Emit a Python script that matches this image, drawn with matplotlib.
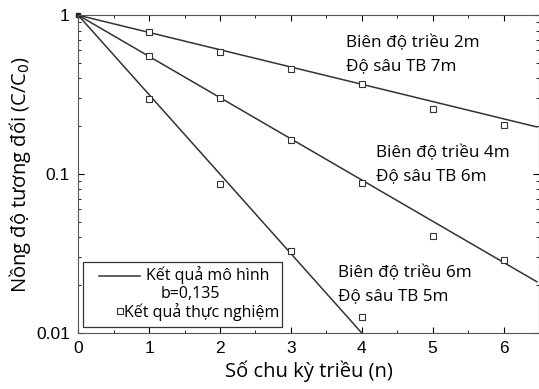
import matplotlib.pyplot as plt
from matplotlib.patches import Rectangle
from matplotlib.lines import Line2D

# Số chu kỳ triều
chu_ky = [1, 2, 3, 4, 5, 6]

# Kết quả thực nghiệm (C/C0)
tn_2m = [0.78, 0.585, 0.46, 0.37, 0.256, 0.203]
tn_4m = [0.55, 0.30, 0.164, 0.088, 0.041, 0.029]
tn_6m = [0.296, 0.0865, 0.033, 0.0126]

# Kết quả mô hình: điểm đầu và điểm cuối của mỗi đường
mh_2m_n = [0, 6.47]
mh_2m_c = [1.0, 0.198]
mh_4m_n = [0, 6.47]
mh_4m_c = [1.0, 0.021]
mh_6m_n = [0, 4.0]
mh_6m_c = [1.0, 0.01]

nhan_x = "Số chu kỳ triều (n)"
nhan_y = "Nồng độ tương đối (C/C$_0$)"
# (dòng 1, dòng 2, n, C) - vị trí đường cơ sở của dòng đầu
chu_thich = [("Biên độ triều 2m", "Độ sâu TB 7m", 3.78, 0.629),
             ("Biên độ triều 4m", "Độ sâu TB 6m", 4.2, 0.128),
             ("Biên độ triều 6m", "Độ sâu TB 5m", 3.67, 0.0225)]

font_chu = "Open Sans"
font_so = "Liberation Sans"
mau = "#333333"

fig = plt.figure(figsize=(5.39, 3.89), dpi=100)
ax = fig.add_axes([0.145, 0.144, 0.855, 0.817])

# Các đường mô hình
ax.plot(mh_2m_n, mh_2m_c, color=mau, linewidth=1.1)
ax.plot(mh_4m_n, mh_4m_c, color=mau, linewidth=1.1)
ax.plot(mh_6m_n, mh_6m_c, color=mau, linewidth=1.1)
ax.plot([0], [1], marker='s', markersize=3.5, color='#222222', clip_on=False)

# Các điểm thực nghiệm
for y in [tn_2m, tn_4m, tn_6m]:
    ax.plot(chu_ky[:len(y)], y, linestyle='none', marker='s', markersize=4.5,
            markerfacecolor='white', markeredgecolor=mau, markeredgewidth=0.8)

ax.set_yscale('log')
ax.set_xlim(0, 6.47)
ax.set_ylim(0.01, 1)
ax.set_xticks([0, 1, 2, 3, 4, 5, 6])
ax.set_xticks([0.5, 1.5, 2.5, 3.5, 4.5, 5.5, 6.5], minor=True)
ax.set_yticks([0.01, 0.1, 1])
ax.set_yticklabels(['0.01', '0.1', '1'])
ax.tick_params(which='both', direction='in', top=True, right=True, labelsize=12.5, pad=6)
ax.tick_params(which='major', length=4)
ax.tick_params(which='minor', length=2.5)
for lb in ax.get_xticklabels() + ax.get_yticklabels():
    lb.set_family(font_so)
for s in ax.spines.values():
    s.set_color('#555555')

ax.set_xlabel(nhan_x, fontsize=14.5, family=font_chu, labelpad=3)
ax.set_ylabel(nhan_y, fontsize=14.5, family=font_chu, labelpad=2)

# Chú thích các đường
for dong1, dong2, x, y in chu_thich:
    ax.text(x, y, dong1, fontsize=12.3, family=font_chu, va='baseline')
    ax.annotate(dong2, (x, y), xytext=(0, -16.8), textcoords='offset points',
                fontsize=12.3, family=font_chu, va='baseline')

# Khung chú giải
ax.add_patch(Rectangle((0.011, 0.02), 0.432, 0.203, transform=ax.transAxes,
                       fill=False, edgecolor=mau, linewidth=0.9, zorder=5))
ax.add_line(Line2D([0.046, 0.135], [0.178, 0.178], transform=ax.transAxes,
                   color=mau, linewidth=1.1, zorder=5))
ax.text(0.148, 0.168, "Kết quả mô hình", transform=ax.transAxes,
        fontsize=11.5, family=font_chu, va='baseline', zorder=5)
ax.text(0.178, 0.111, "b=0,135", transform=ax.transAxes,
        fontsize=11.5, family=font_chu, va='baseline', zorder=5)
ax.plot([0.091], [0.069], transform=ax.transAxes, marker='s', markersize=4,
        markerfacecolor='white', markeredgecolor=mau, markeredgewidth=0.8, zorder=5)
ax.text(0.1, 0.051, "Kết quả thực nghiệm", transform=ax.transAxes,
        fontsize=11.5, family=font_chu, va='baseline', zorder=5)

plt.savefig('out.png', dpi=100)
